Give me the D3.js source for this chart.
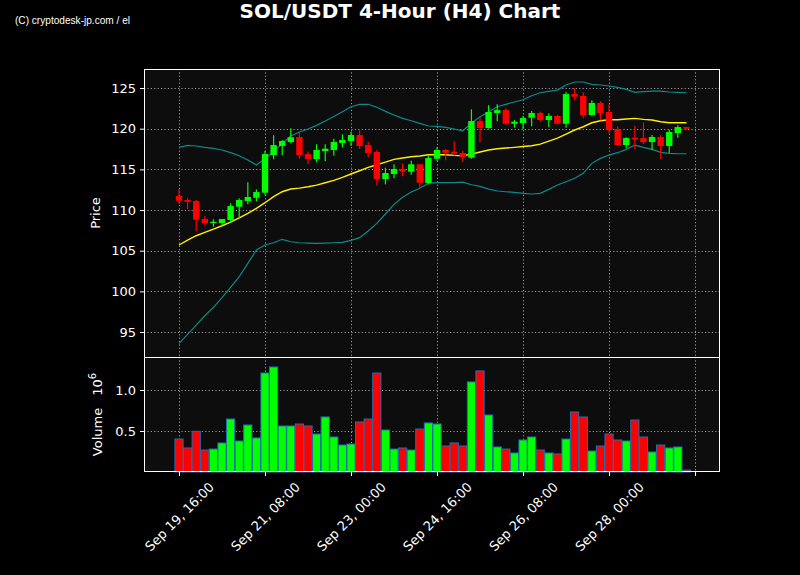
<!DOCTYPE html>
<html><head><meta charset="utf-8">
<script src="https://cdn.jsdelivr.net/npm/d3@7"></script>
<style>body{margin:0;background:#000}svg{display:block}</style>
</head><body><svg id="c" width="800" height="575"></svg>
<script>
// ---- data (4-hour candles starting Sep 19, 16:00) ----
const opens  = [111.72,111.23,111.11,108.90,108.40,108.40,108.77,110.41,111.11,111.51,
                112.13,116.76,117.87,118.36,118.98,116.88,116.27,117.25,117.38,118.24,
                118.48,119.22,117.99,117.13,113.81,114.43,115.04,114.71,115.62,113.32,
                116.31,117.38,117.17,117.01,116.43,120.94,120.08,121.93,122.29,120.61,
                120.70,121.35,121.93,121.07,121.56,120.61,124.26,124.02,121.68,123.16,
                122.05,119.96,117.99,118.89,118.85,118.36,118.98,117.87,119.47,120.20];
const highs  = [112.54,111.44,111.23,109.26,108.86,108.89,110.82,111.44,113.41,112.54,
                117.29,119.18,118.61,120.04,119.50,117.17,118.08,118.08,118.77,119.31,
                119.63,119.80,118.40,117.38,115.20,115.62,115.74,116.06,115.62,116.68,
                117.71,117.50,118.45,117.29,122.38,121.47,122.87,123.00,122.50,121.07,
                121.56,122.17,122.09,121.89,121.68,124.51,124.96,124.47,123.49,123.40,
                123.00,120.29,118.94,120.36,120.78,119.22,119.18,119.87,120.41,120.22];
const lows   = [110.74,110.12,107.42,108.16,107.95,108.03,108.44,108.98,110.70,111.07,
                111.84,116.23,116.73,118.20,116.31,115.62,115.86,115.99,116.68,117.71,
                117.91,117.54,116.52,113.04,113.16,113.90,114.14,114.34,112.67,113.16,
                116.02,116.11,116.68,115.90,116.31,118.32,120.00,120.91,120.45,120.12,
                119.96,120.29,120.86,120.20,120.54,120.12,123.49,121.27,121.59,121.03,
                119.43,117.91,117.59,117.46,118.08,117.38,116.31,117.05,118.89,119.97];
const closes = [111.14,111.02,108.81,108.40,108.56,108.89,110.49,111.23,111.60,112.21,
                116.88,117.99,118.48,118.94,116.76,116.27,117.38,117.54,118.36,118.61,
                119.22,117.87,117.01,113.81,114.55,115.04,114.71,115.62,113.36,116.39,
                117.38,117.04,116.92,116.55,120.94,120.08,122.05,122.29,120.61,120.86,
                121.31,121.93,121.07,121.56,120.61,124.26,123.93,121.68,123.16,121.93,
                119.87,117.99,118.85,118.69,118.36,118.98,117.87,119.59,120.20,119.99];
const volumes = [0.402,0.293,0.496,0.268,0.280,0.354,0.646,0.378,0.573,0.415,
                 1.207,1.280,0.561,0.561,0.585,0.561,0.463,0.671,0.427,0.329,
                 0.341,0.610,0.646,1.207,0.512,0.280,0.293,0.268,0.524,0.598,
                 0.585,0.317,0.354,0.317,1.098,1.232,0.695,0.305,0.280,0.232,
                 0.390,0.427,0.268,0.232,0.220,0.402,0.732,0.671,0.256,0.317,
                 0.463,0.390,0.378,0.634,0.427,0.244,0.329,0.293,0.305,0.024];
const sma   = [105.70,106.31,106.84,107.25,107.66,108.07,108.52,109.05,109.59,110.21,
               110.90,111.64,112.25,112.58,112.70,112.86,113.07,113.36,113.65,114.02,
               114.43,114.83,115.25,115.57,115.90,116.23,116.39,116.55,116.64,116.80,
               116.80,116.80,116.72,116.68,116.88,117.13,117.38,117.54,117.62,117.71,
               117.81,117.91,118.11,118.48,118.85,119.34,119.84,120.24,120.73,120.98,
               121.10,121.10,121.19,121.27,121.15,121.07,120.86,120.73,120.73,120.73];
const upper = [117.71,117.95,117.87,117.71,117.59,117.38,117.05,116.68,116.15,115.53,
               116.31,117.17,118.20,119.10,119.59,119.96,120.41,120.94,121.50,122.09,
               122.70,123.00,123.00,122.63,122.13,121.68,121.27,120.98,120.66,120.33,
               120.29,120.17,119.96,119.75,120.66,121.47,122.09,122.70,123.00,123.28,
               123.56,124.05,124.42,124.59,124.75,125.37,125.74,125.74,125.45,125.37,
               125.25,125.08,124.84,124.47,124.55,124.63,124.63,124.51,124.47,124.42];
const lower = [93.61,94.71,95.86,97.00,98.03,99.22,100.49,101.80,103.45,105.08,
               105.70,105.98,106.40,106.10,105.98,105.94,105.90,105.94,105.98,106.02,
               106.27,106.60,107.42,108.36,109.51,110.70,111.56,112.21,112.67,113.28,
               113.36,113.36,113.36,113.44,113.11,112.91,112.58,112.34,112.25,112.17,
               112.05,111.97,112.05,112.54,113.07,113.48,113.90,114.51,115.74,116.35,
               116.76,117.05,117.46,117.99,117.71,117.46,117.09,116.97,116.92,116.92];
const xTickIdx    = [0,10,20,30,40,50,60];
const xTickLabels = ["Sep 19, 16:00","Sep 21, 08:00","Sep 23, 00:00","Sep 24, 16:00","Sep 26, 08:00","Sep 28, 00:00",""];
const priceTicks  = [95,100,105,110,115,120,125];
const volTicks    = [0.5,1.0];

// ---- layout ----
const svg = d3.select("#c");
const L=144, R=720, PT=69, PB=357, VB=472;
const x  = d3.scaleLinear().domain([-4.07,62.9]).range([L,R]);
const yP = d3.scaleLinear().domain([91.93,127.34]).range([PB,PT]);
const yV = d3.scaleLinear().domain([0,1.402]).range([VB,PB]);
const FONT = "DejaVu Sans, sans-serif";
const GREEN="#00ff00", RED="#ff0000";
const idx = d3.range(opens.length);

svg.append("rect").attr("width",800).attr("height",575).attr("fill","#000");
svg.append("rect").attr("x",L).attr("y",PT).attr("width",R-L).attr("height",PB-PT).attr("fill","#0d0d0d");
svg.append("rect").attr("x",L).attr("y",PB).attr("width",R-L).attr("height",VB-PB).attr("fill","#0d0d0d");

// grids
const grid = svg.append("g").attr("stroke","#9a9a9a").attr("stroke-width",1).attr("stroke-dasharray","1.2,2.2").attr("fill","none");
priceTicks.forEach(t=>grid.append("line").attr("x1",L).attr("x2",R).attr("y1",Math.round(yP(t))+0.5).attr("y2",Math.round(yP(t))+0.5));
volTicks.forEach(t=>grid.append("line").attr("x1",L).attr("x2",R).attr("y1",Math.round(yV(t))+0.5).attr("y2",Math.round(yV(t))+0.5));
xTickIdx.forEach(i=>{
  const xx=Math.round(x(i))+0.5;
  grid.append("line").attr("x1",xx).attr("x2",xx).attr("y1",PT).attr("y2",PB);
  grid.append("line").attr("x1",xx).attr("x2",xx).attr("y1",PB).attr("y2",VB);
});

// clip
svg.append("clipPath").attr("id","cp").append("rect").attr("x",L).attr("y",PT).attr("width",R-L).attr("height",PB-PT);
const pg = svg.append("g").attr("clip-path","url(#cp)");

// bands & sma
const line = arr => d3.line().x((d,i)=>x(i)).y(d=>yP(d))(arr);
pg.append("path").attr("d",line(upper)).attr("fill","none").attr("stroke","#0e8a8a").attr("stroke-width",1.2);
pg.append("path").attr("d",line(lower)).attr("fill","none").attr("stroke","#0e8a8a").attr("stroke-width",1.2);
pg.append("path").attr("d",line(sma)).attr("fill","none").attr("stroke","#ffee00").attr("stroke-width",1.4);

// candles
const bw = 6.4;
idx.forEach(i=>{
  const c = closes[i]>=opens[i]?GREEN:RED;
  const xx = x(i);
  pg.append("line").attr("x1",xx).attr("x2",xx).attr("y1",yP(highs[i])).attr("y2",yP(lows[i])).attr("stroke",c).attr("stroke-width",1.2);
  const top = yP(Math.max(opens[i],closes[i])), bot = yP(Math.min(opens[i],closes[i]));
  pg.append("rect").attr("x",xx-bw/2).attr("y",top).attr("width",bw).attr("height",Math.max(1.2,bot-top)).attr("fill",c);
});

// volume
const vg = svg.append("g");
const vw = 8.2;
idx.forEach(i=>{
  const c = closes[i]>=opens[i]?GREEN:RED;
  vg.append("rect").attr("x",x(i)-vw/2).attr("y",yV(volumes[i])).attr("width",vw).attr("height",yV(0)-yV(volumes[i]))
    .attr("fill",c).attr("stroke","#1f6fb0").attr("stroke-width",1);
});

// frames
svg.append("rect").attr("x",L+0.5).attr("y",PT+0.5).attr("width",R-L-1).attr("height",PB-PT).attr("fill","none").attr("stroke","#fff").attr("stroke-width",1);
svg.append("rect").attr("x",L+0.5).attr("y",PB+0.5).attr("width",R-L-1).attr("height",VB-PB-1).attr("fill","none").attr("stroke","#fff").attr("stroke-width",1);

// y axes
const ay = svg.append("g").attr("transform",`translate(${L},0)`).call(d3.axisLeft(yP).tickValues(priceTicks).tickSize(4).tickPadding(4).tickFormat(d3.format("d")));
const av = svg.append("g").attr("transform",`translate(${L},0)`).call(d3.axisLeft(yV).tickValues(volTicks).tickSize(4).tickPadding(4).tickFormat(d3.format(".1f")));
const ax = svg.append("g").attr("transform",`translate(0,${VB})`).call(d3.axisBottom(x).tickValues(xTickIdx).tickSize(4).tickFormat((d,k)=>xTickLabels[k]));
[ay,av,ax].forEach(g=>{
  g.select(".domain").remove();
  g.selectAll(".tick line").attr("stroke","#fff");
  g.selectAll("text").attr("fill","#fff").attr("font-family",FONT).attr("font-size",13);
});
// rotated labels centered on tick (matplotlib rotation=45, ha=center)
ax.selectAll(".tick text").each(function(){
  const t = d3.select(this);
  const w = this.getComputedTextLength ? this.getComputedTextLength() : 90;
  const h = 13;
  const half = (w + h) * Math.SQRT1_2 / 2;
  t.attr("text-anchor","middle").attr("x",0).attr("y",0).attr("dy","0.35em")
   .attr("transform",`translate(0,${8 + half}) rotate(-45)`);
});

// labels
svg.append("text").attr("transform",`translate(100,${(PT+PB)/2}) rotate(-90)`).attr("text-anchor","middle")
  .attr("fill","#fff").attr("font-family",FONT).attr("font-size",13).text("Price");
const vl = svg.append("text").attr("transform",`translate(102,${(PB+VB)/2}) rotate(-90)`).attr("text-anchor","middle")
  .attr("fill","#fff").attr("font-family",FONT).attr("font-size",13);
vl.append("tspan").text("Volume");
vl.append("tspan").attr("dx",12).text("10");
vl.append("tspan").attr("dy",-6).attr("font-size",10).text("6");

svg.append("text").attr("x",400).attr("y",18).attr("text-anchor","middle").attr("fill","#fff")
  .attr("font-family",FONT).attr("font-weight","bold").attr("font-size",20).text("SOL/USDT 4-Hour (H4) Chart");
svg.append("text").attr("x",15).attr("y",24).attr("fill","#fff").attr("font-family","Liberation Sans Narrow, Liberation Sans, sans-serif")
  .attr("font-size",11).attr("textLength",115).attr("lengthAdjust","spacingAndGlyphs").text("(C) cryptodesk-jp.com / el");
</script>
</body></html>
